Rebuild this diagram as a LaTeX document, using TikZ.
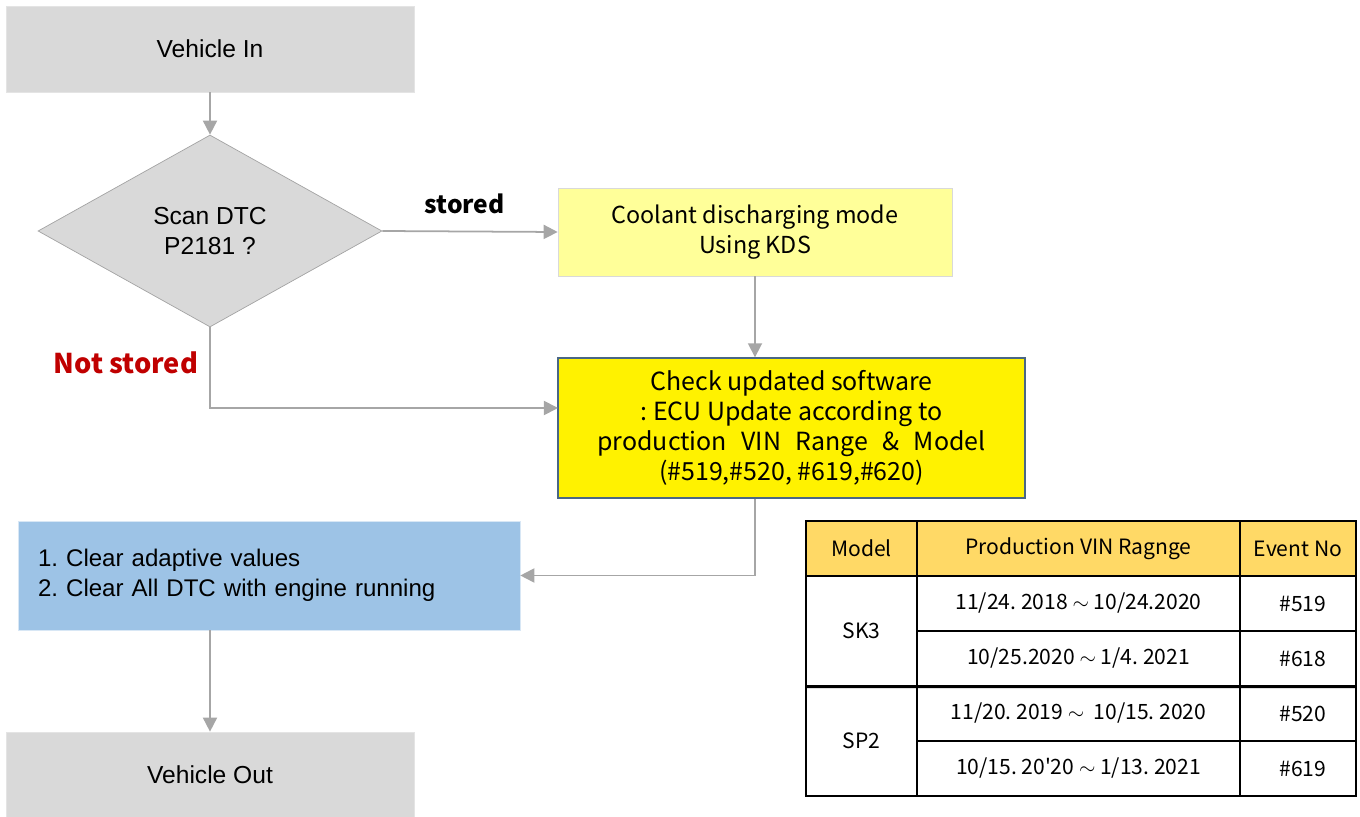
\documentclass[tikz,border=0pt]{standalone}
\usepackage{fontspec}
\setmainfont{Liberation Sans}
\newfontfamily\kfont{Noto Sans CJK KR}
\usetikzlibrary{arrows.meta,shapes.geometric}

\definecolor{boxgray}{HTML}{D9D9D9}
\definecolor{linegray}{HTML}{A6A6A6}
\definecolor{paleyellow}{HTML}{FFFF99}
\definecolor{slateblue}{HTML}{4A6785}
\definecolor{skyblue}{HTML}{9DC3E6}
\definecolor{headgold}{HTML}{FFD966}
\definecolor{notred}{HTML}{C00000}

\begin{document}
\frenchspacing
\begin{tikzpicture}[x=0.02cm, y=-0.02cm,
    graybox/.style={draw=boxgray!70, fill=boxgray, minimum width=8.16cm, minimum height=1.72cm, font=\fontsize{14}{16}\selectfont},
    flow/.style={draw=linegray, line width=1pt, -{Triangle[length=8pt, width=8pt]}},
    cell/.style={draw=black, line width=0.8pt, inner sep=0pt, minimum height=1.1cm, font=\kfont\fontsize{12}{14}\selectfont},
    headcell/.style={cell, fill=headgold}]
    \useasboundingbox (0,0) rectangle (1360,817);

    % start
    \node[graybox] (vin) at (210,49) {Vehicle In};

    % decision
    \node[draw=boxgray!75!black, fill=boxgray, diamond, aspect=1.8, inner sep=0pt,
          minimum width=6.88cm, minimum height=3.84cm, align=center,
          font=\fontsize{14}{17}\selectfont] (scan) at (210,231) {Scan DTC\\P2181 ?};

    % coolant mode
    \node[draw=boxgray, fill=paleyellow, minimum width=7.88cm, minimum height=1.76cm, align=center,
          font=\kfont\fontsize{13.3}{17}\selectfont] (coolant) at (755,232) {Coolant discharging mode\\Using KDS};

    % software check
    \node[draw=slateblue, line width=0.8pt, fill=yellow, minimum width=9.34cm, minimum height=2.8cm, align=center,
          font=\kfont\fontsize{14.2}{17}\selectfont] (check) at (791.5,428)
          {Check updated software\\: ECU Update according to\\production\hspace{5pt} VIN\hspace{5pt} Range\hspace{5pt} \&\hspace{5pt} Model\\(\#519,\#520, \#619,\#620)};

    % clear
    \node[draw=skyblue!40, fill=skyblue, text width=9.24cm, inner xsep=0.4cm, minimum height=2.18cm, align=left,
          font=\fontsize{13.7}{17}\selectfont] (clear) at (269,575.5)
          {1. Clear adaptive values\\2. Clear All DTC with engine running};

    % end
    \node[graybox] (vout) at (210,775) {Vehicle Out};

    % flows
    \coordinate (notin) at (558,408);
    \draw[flow] (vin) -- (scan);
    \draw[flow] (scan.east) -- node[pos=0.47, above=0.22cm, font=\kfont\bfseries\fontsize{14}{16}\selectfont] (stored) {stored} (coolant.west);
    \draw[flow] (coolant.south) -- (coolant.south |- check.north);
    \draw[flow] (scan.south) |- (notin);
    \node[text=notred, font=\kfont\bfseries\fontsize{15.5}{17}\selectfont] (notstored) at (126,363) {Not stored};
    \draw[flow] (coolant.south |- check.south) |- (clear.east);
    \draw[flow] (vout.north |- clear.south) -- (vout);

    % table
    \node[headcell, minimum width=2.22cm] (hmodel) at (861.5,548.5) {Model};
    \node[headcell, minimum width=6.46cm] (hvin) at (1078.5,548.5) {Production VIN Ragnge};
    \node[headcell, minimum width=2.32cm] (hev) at (1298,548.5) {Event No};

    \node[cell, minimum width=2.22cm, minimum height=2.2cm] (sk3) at (861.5,631) {SK3};
    \node[cell, minimum width=2.22cm, minimum height=2.2cm] (sp2) at (861.5,741) {SP2};

    \node[cell, minimum width=6.46cm] (vin1) at (1078.5,603.5) {11/24. 2018 $\sim$ 10/24.2020};
    \node[cell, minimum width=6.46cm] (vin2) at (1078.5,658.5) {10/25.2020 $\sim$ 1/4. 2021};
    \node[cell, minimum width=6.46cm] (vin3) at (1078.5,713.5) {11/20. 2019 $\sim$ \ 10/15. 2020};
    \node[cell, minimum width=6.46cm] (vin4) at (1078.5,768.5) {10/15. 20'20 $\sim$ 1/13. 2021};

    \node[cell, minimum width=2.32cm] (ev1) at (1298,603.5) {\ \ \#519};
    \node[cell, minimum width=2.32cm] (ev2) at (1298,658.5) {\ \ \#618};
    \node[cell, minimum width=2.32cm] (ev3) at (1298,713.5) {\ \ \#520};
    \node[cell, minimum width=2.32cm] (ev4) at (1298,768.5) {\ \ \#619};

    \draw[line width=1.6pt] (sk3.south west) -- (ev2.south east);
\end{tikzpicture}
\end{document}
